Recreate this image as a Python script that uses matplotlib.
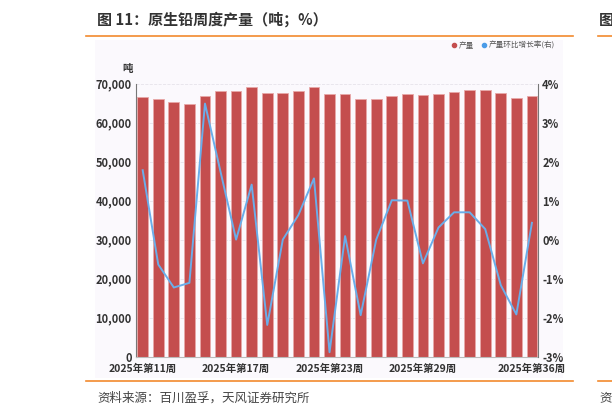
import numpy as np
import matplotlib
matplotlib.use('Agg')
import matplotlib.pyplot as plt
from matplotlib.lines import Line2D
from matplotlib.ticker import FuncFormatter

plt.rcParams['font.family'] = ['Noto Sans CJK SC', 'DejaVu Sans']

weeks = list(range(11, 37))
week_labels = [f"2025年第{w}周" for w in weeks]
label_weeks = [11, 17, 23, 29, 36]

output = [66590, 66150, 65380, 64720, 66920, 68210, 68210, 69160, 67690, 67690,
          68210, 69230, 67280, 67360, 66080, 66080, 66850, 67440, 67100, 67280,
          67800, 68310, 68460, 67690, 66330, 66770]
growth = [1.78, -0.64, -1.23, -1.11, 3.49, 1.74, 0.0, 1.41, -2.19, 0.0,
          0.63, 1.57, -2.89, 0.09, -1.94, 0.0, 1.01, 1.0, -0.61, 0.31,
          0.70, 0.70, 0.27, -1.17, -1.92, 0.43]

bar_color = "#C44E4E"
line_color = "#6AAEEA"
orange = "#F28A2E"
text_dark = "#333333"

fig = plt.figure(figsize=(6.12, 4.16), dpi=100)
fig.patch.set_facecolor("white")

# panel background
bg = fig.add_axes([95 / 612, 1 - 378 / 416, (563 - 95) / 612, (378 - 40) / 416])
bg.set_facecolor("#FBF9FD")
bg.set_xticks([])
bg.set_yticks([])
for s in bg.spines.values():
    s.set_visible(False)
bg.set_zorder(0)

ax = fig.add_axes([136 / 612, 1 - 356.5 / 416, (538 - 136) / 612, (356.5 - 83.7) / 416])
ax.set_zorder(1)
ax.patch.set_alpha(0)
x = np.arange(len(weeks))
ax.bar(x, output, width=0.69, color=bar_color, edgecolor="#E8A8A8", linewidth=0.6, zorder=2)
ax.set_xlim(-0.43, len(weeks) - 1 + 0.39)
ax.set_ylim(0, 70000)
ax.set_yticks(np.arange(0, 70001, 10000))
ax.yaxis.set_major_formatter(FuncFormatter(lambda v, p: f"{int(v):,}"))
ax.grid(axis="y", color="#E6E3EA", linestyle="--", linewidth=0.6, zorder=0)
ax.set_xticks([weeks.index(w) for w in label_weeks])
ax.set_xticklabels([week_labels[weeks.index(w)] for w in label_weeks])
ax.tick_params(axis="x", length=0, pad=5.5, labelsize=7.5, colors=text_dark)
ax.tick_params(axis="y", length=0, pad=3, labelsize=8, colors=text_dark)
for lbl in ax.get_xticklabels() + ax.get_yticklabels():
    lbl.set_fontweight("bold")
for s in ["top", "right"]:
    ax.spines[s].set_visible(False)
ax.spines["left"].set_color("#777777")
ax.spines["bottom"].set_color("#BBBBBB")
ax.text(-0.02, 1.035, "吨", transform=ax.transAxes, ha="center", va="bottom",
        fontsize=7.5, fontweight="bold", color=text_dark)

ax2 = ax.twinx()
ax2.plot(x, growth, color=line_color, linewidth=1.4, zorder=3)
ax2.set_ylim(-3, 4)
ax2.set_yticks(np.arange(-3, 5, 1))
ax2.yaxis.set_major_formatter(FuncFormatter(lambda v, p: f"{int(v)}%"))
ax2.tick_params(axis="y", length=0, pad=3, labelsize=8, colors=text_dark)
for lbl in ax2.get_yticklabels():
    lbl.set_fontweight("bold")
for s in ["top", "left", "bottom"]:
    ax2.spines[s].set_visible(False)
ax2.spines["right"].set_color("#777777")

handles = [
    Line2D([], [], marker="o", linestyle="", color=bar_color, markersize=3),
    Line2D([], [], marker="o", linestyle="", color="#4A9BE8", markersize=3),
]
fig.legend(handles, ["产量", "产量环比增长率(右)"], loc="center right",
           bbox_to_anchor=(562 / 612, 1 - 46 / 416), ncol=2, frameon=False,
           fontsize=5.5, labelcolor="#555555", handletextpad=0.2, columnspacing=1.0,
           handlelength=0.8)

# header / footer
fig.text(97 / 612, 1 - 20 / 416, "图 11：原生铅周度产量（吨；%）", fontsize=10.8,
         fontweight="bold", color="#333333", ha="left", va="center")
fig.add_artist(Line2D([86 / 612, 573 / 612], [1 - 36 / 416] * 2, color=orange, linewidth=1.2))
fig.add_artist(Line2D([86 / 612, 573 / 612], [1 - 381 / 416] * 2, color=orange, linewidth=1.2))
fig.text(97 / 612, 1 - 398 / 416, "资料来源：百川盈孚，天风证券研究所", fontsize=9,
         color="#444444", ha="left", va="center")

# neighbouring panel edge (cut off by the picture border, as in the source)
fig.text(599 / 612, 1 - 20 / 416, "图", fontsize=10.8, fontweight="bold", color="#333333",
         ha="left", va="center")
fig.add_artist(Line2D([598 / 612, 1.0], [1 - 36 / 416] * 2, color=orange, linewidth=1.2))
fig.add_artist(Line2D([598 / 612, 1.0], [1 - 381 / 416] * 2, color=orange, linewidth=1.2))
fig.text(599 / 612, 1 - 398 / 416, "资", fontsize=9, color="#444444", ha="left", va="center")

fig.savefig("out.png", dpi=100)
